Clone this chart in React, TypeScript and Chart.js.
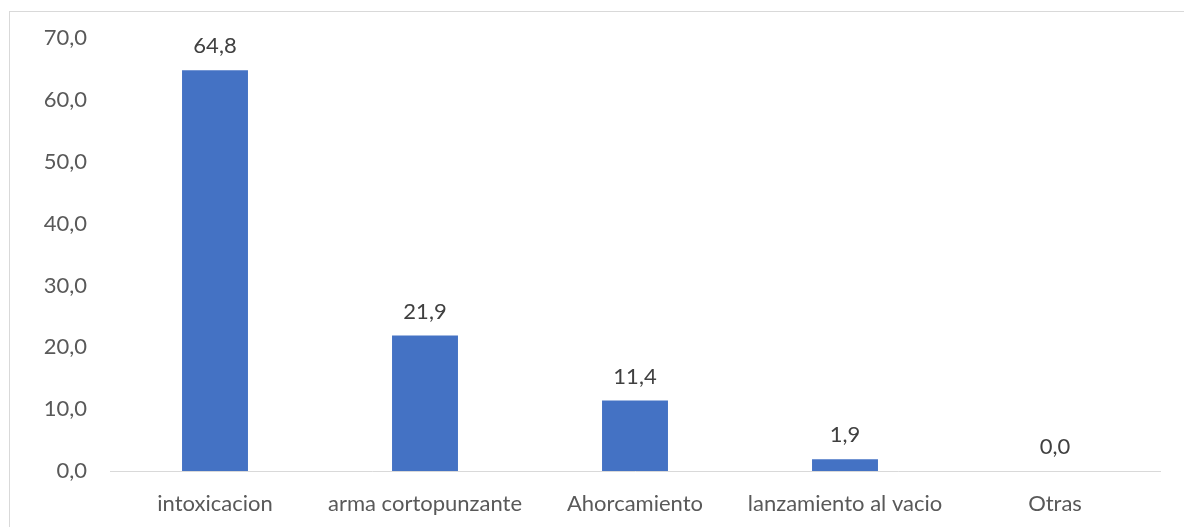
import React, { useEffect, useRef } from "react";
import { Chart, registerables } from "chart.js";

Chart.register(...registerables);

const categories = ["intoxicacion", "arma cortopunzante", "Ahorcamiento", "lanzamiento al vacio", "Otras"];
const values = [64.8, 21.9, 11.4, 1.9, 0.0];
const yTicks = [0, 10, 20, 30, 40, 50, 60, 70];

const fmt = (v: number) => v.toFixed(1).replace(".", ",");
const FONT = "Lato, 'Open Sans', sans-serif";
const SIZE = 22;
const TEXT = "#595959";

const dataLabels = {
  id: "dataLabels",
  afterDatasetsDraw(chart: any) {
    const ctx = chart.ctx;
    const meta = chart.getDatasetMeta(0);
    ctx.save();
    ctx.font = `${SIZE}px ${FONT}`;
    ctx.fillStyle = "#404040";
    ctx.textAlign = "center";
    ctx.textBaseline = "middle";
    meta.data.forEach((bar: any, i: number) => {
      ctx.fillText(fmt(values[i]), bar.x, bar.y - 24);
    });
    ctx.restore();
  },
};

export default function App() {
  const ref = useRef<HTMLCanvasElement>(null);
  useEffect(() => {
    if (!ref.current) return;
    const chart = new Chart(ref.current, {
      type: "bar",
      data: {
        labels: categories,
        datasets: [
          {
            data: values,
            backgroundColor: "#4472C4",
            categoryPercentage: 1,
            barPercentage: 0.314,
          },
        ],
      },
      options: {
        animation: false,
        responsive: false,
        maintainAspectRatio: false,
        layout: { padding: { top: 38, right: 24, left: 0, bottom: 0 } },
        plugins: { legend: { display: false }, tooltip: { enabled: false } },
        scales: {
          x: {
            grid: { display: false, drawTicks: false },
            border: { display: true, color: "#d9d9d9", width: 1 },
            ticks: { color: TEXT, font: { size: SIZE, family: FONT }, padding: 20, maxRotation: 0, autoSkip: false },
            afterFit: (s: any) => { s.height = 56; },
          },
          y: {
            min: 0,
            max: 70,
            afterBuildTicks: (s: any) => { s.ticks = yTicks.map((v) => ({ value: v })); },
            grid: { display: false, drawTicks: false },
            border: { display: false },
            ticks: { color: TEXT, font: { size: SIZE, family: FONT }, padding: 23, callback: (v: any) => fmt(Number(v)) },
            afterFit: (s: any) => { s.width = 110; },
          },
        },
      },
      plugins: [dataLabels],
    });
    return () => chart.destroy();
  }, []);
  return (
    <div style={{ position: "fixed", left: 0, top: 0, width: 1184, height: 527, overflow: "hidden", background: "#fff" }}>
      <div style={{ position: "absolute", left: 9, top: 11, width: 1300, height: 700, border: "1px solid #d9d9d9" }} />
      <canvas ref={ref} width={1184} height={527} style={{ position: "absolute", left: 0, top: 0 }} />
    </div>
  );
}
